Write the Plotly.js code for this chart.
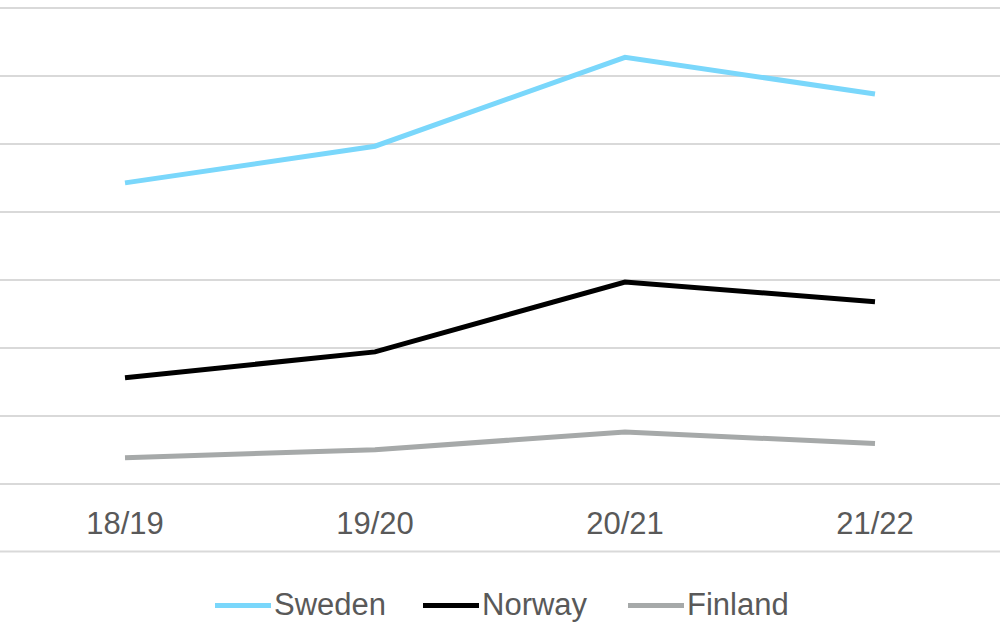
<!DOCTYPE html>
<html>
<head>
<meta charset="utf-8">
<script src="https://cdn.plot.ly/plotly-3.0.1.min.js"></script>
<style>html,body{margin:0;padding:0;background:#fff}#chart{width:1001px;height:622px}</style>
</head>
<body>
<div id="chart"></div>
<script>
const seasons = ["18/19", "19/20", "20/21", "21/22"];
const sweden = [4.43, 4.97, 6.28, 5.74];
const norway = [1.56, 1.94, 2.97, 2.68];
const finland = [0.38, 0.50, 0.76, 0.59];
const seriesNames = ["Sweden", "Norway", "Finland"];
const seriesColors = ["#7AD7FB", "#000000", "#A6A9A9"];

const data = [sweden, norway, finland].map((vals, i) => ({
  x: seasons, y: vals, type: "scatter", mode: "lines", name: seriesNames[i],
  line: {color: seriesColors[i], width: 5}, hoverinfo: "skip", showlegend: false
}));

const W = 1001, H = 622;
const plotTop = 4.6, plotBottom = 487.4;
const plotH = plotBottom - plotTop;
const plotW = 1000;
const py = px => -(px - plotBottom) / plotH;   // pixel row -> paper y
const pxX = px => px / plotW;                  // pixel col -> paper x

// legend layout (pixel positions of each legend entry's sample line start)
const legendStarts = [215, 423, 628];
const legendLineLen = 56;
const legendY = 606;

const shapes = [{
  type: "line", xref: "paper", yref: "paper", x0: 0, x1: 1,
  y0: py(552), y1: py(552), line: {color: "#D9D9D9", width: 2}
}];
const annotations = [];
seriesNames.forEach((name, i) => {
  shapes.push({
    type: "line", xref: "paper", yref: "paper",
    x0: pxX(legendStarts[i]), x1: pxX(legendStarts[i] + legendLineLen),
    y0: py(legendY), y1: py(legendY),
    line: {color: seriesColors[i], width: 5}
  });
  annotations.push({
    xref: "paper", yref: "paper", x: pxX(legendStarts[i] + legendLineLen + 2), y: py(605),
    xanchor: "left", yanchor: "middle", showarrow: false, text: name,
    font: {size: 31, color: "#595959"}, borderpad: 0
  });
});

const layout = {
  width: W, height: H,
  margin: {l: 0, r: 1, t: plotTop, b: H - plotBottom, pad: 0, autoexpand: false},
  paper_bgcolor: "#ffffff", plot_bgcolor: "#ffffff",
  font: {family: "Liberation Sans, Arial, sans-serif", size: 31, color: "#595959"},
  xaxis: {
    type: "category", range: [-0.5, 3.5], showgrid: false, zeroline: false, showline: false,
    ticks: "outside", ticklen: 9, tickcolor: "rgba(0,0,0,0)",
    tickfont: {size: 31, color: "#595959"}, fixedrange: true
  },
  yaxis: {
    range: [-0.05, 7.05], dtick: 1, tick0: 0, showgrid: true, gridcolor: "#D9D9D9", gridwidth: 2,
    zeroline: false, showline: false, showticklabels: false, ticks: "", fixedrange: true
  },
  showlegend: false,
  shapes: shapes,
  annotations: annotations
};

Plotly.newPlot("chart", data, layout, {displayModeBar: false, staticPlot: true});
</script>
</body>
</html>
